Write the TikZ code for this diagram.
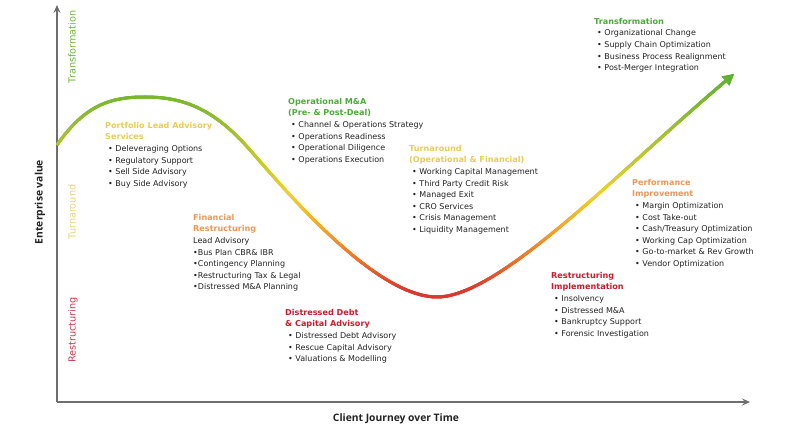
\documentclass[tikz,border=0pt]{standalone}
\usepackage{fontspec}
\setmainfont{DejaVu Sans}
\newfontfamily\axisfont{Open Sans}
\usetikzlibrary{arrows.meta, positioning}
\definecolor{AxisGray}{HTML}{6E6E6E}
\definecolor{BodyText}{HTML}{222222}
\definecolor{HeadGreen}{HTML}{4DAA3A}
\definecolor{HeadYellow}{HTML}{E6CC58}
\definecolor{HeadOrange}{HTML}{E9985A}
\definecolor{HeadRed}{HTML}{C41E2E}
\definecolor{SideGreen}{HTML}{6DB33F}
\definecolor{SideYellow}{HTML}{E6D27A}
\definecolor{SideRed}{HTML}{C8394A}
% curve colour stops
\definecolor{CurveGA}{HTML}{5BB12F}
\definecolor{CurveGB}{HTML}{92BC31}
\definecolor{CurveYG}{HTML}{C2C82E}
\definecolor{CurveYE}{HTML}{EED12A}
\definecolor{CurveOR}{HTML}{F2A42C}
\definecolor{CurveOR2}{HTML}{E9712C}
\definecolor{CurveRE}{HTML}{D93A2E}
\newcommand\journeypath{(57,145) .. controls (85,105) and (110,97) .. (145,97)
  .. controls (185,97) and (215,110) .. (250,150)
  .. controls (285,190) and (375,297) .. (437,297)
  .. controls (500,297) and (620,170) .. (734,74)}
\newcommand\phead[2]{\textcolor{#1}{\bfseries\fontsize{8.1}{11.6}\selectfont #2}}
\newcommand\itm{\hspace*{3pt}•~}

\begin{document}
\begin{tikzpicture}[x=1pt, y=-1pt,
    axis/.style={draw=AxisGray, line width=1.3pt, -{Stealth[length=8pt, width=7pt, inset=3pt]}},
    phase/.style={anchor=north west, inner sep=0pt, align=left, text=BodyText, font=\fontsize{8}{11.6}\selectfont},
    sidelabel/.style={rotate=90, inner sep=0pt, font=\fontsize{9.7}{11}\selectfont},
    axislabel/.style={inner sep=0pt, text=BodyText, font=\axisfont\bfseries\fontsize{10.3}{12}\selectfont}
  ]
  \useasboundingbox (0,0) rectangle (800,435);

  % axes
  \coordinate (origin) at (57,402);
  \coordinate (ytop) at (57,5);
  \coordinate (xend) at (750,402);
  \draw[axis] (origin) -- (ytop);
  \draw[axis] (origin) -- (xend);
  \node[axislabel, rotate=90] (evlabel) at (40,202) {Enterprise value};
  \node[axislabel] (cjlabel) at (396,419) {Client Journey over Time};

  % phase labels along the value axis
  \node[sidelabel, text=SideGreen] (sidetransf) at (72,47) {Transformation};
  \node[sidelabel, text=SideYellow] (sideturn) at (72,212) {Turnaround};
  \node[sidelabel, text=SideRed] (siderestr) at (73,330) {Restructuring};

  % journey curve, coloured band by band
  \foreach \ya/\yb/\ca/\cb in {55/75/CurveGA/CurveGA, 75/120/CurveGA/CurveGB, 120/160/CurveGB/CurveYG,
      160/195/CurveYG/CurveYE, 195/230/CurveYE/CurveOR, 230/262/CurveOR/CurveOR2,
      262/290/CurveOR2/CurveRE, 290/310/CurveRE/CurveRE}{
    \foreach \y in {\ya,...,\yb}{
      \pgfmathtruncatemacro\pct{100*(\yb-\y)/(\yb-\ya)}
      \begin{scope}
        \clip (0,\y-0.2) rectangle (800,\y+1.2);
        \draw[line width=3pt, color=\ca!\pct!\cb, -{Triangle[length=11pt, width=11pt]}] \journeypath;
      \end{scope}
    }
  }

  % service blocks
  \node[phase] (portfolio) at (105,122) {\phead{HeadYellow}{Portfolio Lead Advisory}\\\phead{HeadYellow}{Services}\\
    \itm Deleveraging Options\\\itm Regulatory Support\\\itm Sell Side Advisory\\\itm Buy Side Advisory};
  \node[phase] (finrestr) at (193,214) {\phead{HeadOrange}{Financial}\\\phead{HeadOrange}{Restructuring}\\
    Lead Advisory\\•Bus Plan CBR\& IBR\\•Contingency Planning\\•Restructuring Tax \& Legal\\•Distressed M\&A Planning};
  \node[phase] (distressed) at (285,309) {\phead{HeadRed}{Distressed Debt}\\\phead{HeadRed}{\& Capital Advisory}\\
    \itm Distressed Debt Advisory\\\itm Rescue Capital Advisory\\\itm Valuations \& Modelling};
  \node[phase] (opma) at (288,98) {\phead{HeadGreen}{Operational M\&A}\\\phead{HeadGreen}{(Pre- \& Post-Deal)}\\
    \itm Channel \& Operations Strategy\\\itm Operations Readiness\\\itm Operational Diligence\\\itm Operations Execution};
  \node[phase] (turnaround) at (409,145) {\phead{HeadYellow}{Turnaround}\\\phead{HeadYellow}{(Operational \& Financial)}\\
    \itm Working Capital Management\\\itm Third Party Credit Risk\\\itm Managed Exit\\\itm CRO Services\\\itm Crisis Management\\\itm Liquidity Management};
  \node[phase] (restrimpl) at (551,272) {\phead{HeadRed}{Restructuring}\\\phead{HeadRed}{Implementation}\\
    \itm Insolvency\\\itm Distressed M\&A\\\itm Bankruptcy Support\\\itm Forensic Investigation};
  \node[phase] (perfimpr) at (632,179) {\phead{HeadOrange}{Performance}\\\phead{HeadOrange}{Improvement}\\
    \itm Margin Optimization\\\itm Cost Take-out\\\itm Cash/Treasury Optimization\\\itm Working Cap Optimization\\\itm Go-to-market \& Rev Growth\\\itm Vendor Optimization};
  \node[phase] (transf) at (594,18) {\phead{HeadGreen}{Transformation}\\
    \itm Organizational Change\\\itm Supply Chain Optimization\\\itm Business Process Realignment\\\itm Post-Merger Integration};
\end{tikzpicture}
\end{document}
